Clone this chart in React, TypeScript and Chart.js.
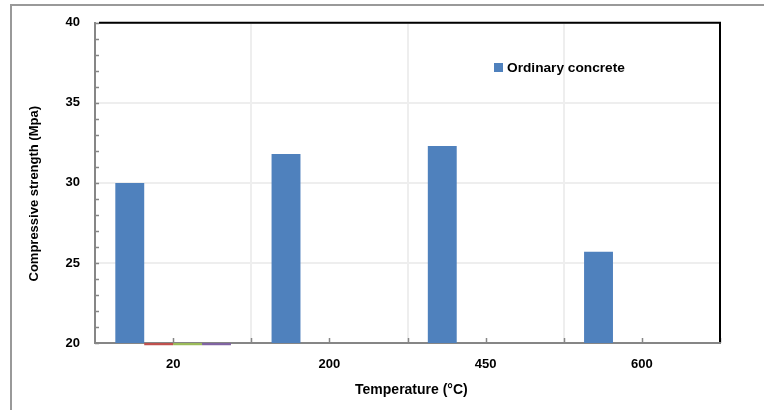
import React, { useEffect, useRef } from 'react';
import { Chart, registerables } from 'chart.js';

Chart.register(...registerables);

const categories = ['20', '200', '450', '600'];
const ordinaryConcrete = [30.0, 31.8, 32.3, 25.7];
const series2 = [20, null, null, null];
const series3 = [20, null, null, null];
const series4 = [20, null, null, null];
const seriesLabels = ['Ordinary concrete', 'Series 2', 'Series 3', 'Series 4'];
const seriesColors = ['#4F81BD', '#C0504D', '#9BBB59', '#8064A2'];
const yMin = 20;
const yMax = 40;
const yStep = 5;
const yMinorStep = 1;
const xTitle = 'Temperature (°C)';
const yTitle = 'Compressive strength (Mpa)';

const FONT = "'Liberation Sans', Arial, sans-serif";

const decorPlugin = {
  id: 'decor',
  beforeDraw(chart: any) {
    const { ctx } = chart;
    ctx.save();
    ctx.fillStyle = '#ffffff';
    ctx.fillRect(0, 0, chart.width, chart.height);
    ctx.restore();
  },
  afterDraw(chart: any) {
    const { ctx, chartArea } = chart;
    const x = chart.scales.x;
    const y = chart.scales.y;
    ctx.save();
    // outer frame
    ctx.strokeStyle = '#999999';
    ctx.lineWidth = 2;
    ctx.strokeRect(11, 5, chart.width + 20, chart.height + 20);
    // inside minor ticks y
    ctx.strokeStyle = '#868686';
    ctx.lineWidth = 1.5;
    for (let v = yMin; v <= yMax; v += yMinorStep) {
      const py = Math.round(y.getPixelForValue(v)) + 0.5;
      ctx.beginPath();
      ctx.moveTo(chartArea.left, py);
      ctx.lineTo(chartArea.left + 4, py);
      ctx.stroke();
    }
    // inside ticks x (centres and boundaries)
    const n = categories.length;
    for (let i = 0; i < n; i++) {
      const c = x.getPixelForValue(i);
      const w = x.getPixelForValue(1) - x.getPixelForValue(0);
      [c, c + w / 2].forEach((px: number) => {
        ctx.beginPath();
        ctx.moveTo(Math.round(px) + 0.5, chartArea.bottom);
        ctx.lineTo(Math.round(px) + 0.5, chartArea.bottom - 5);
        ctx.stroke();
      });
    }
    // black top and right borders
    ctx.strokeStyle = '#000000';
    ctx.lineWidth = 2;
    ctx.beginPath();
    ctx.moveTo(chartArea.left + 4, chartArea.top);
    ctx.lineTo(chartArea.right, chartArea.top);
    ctx.lineTo(chartArea.right, chartArea.bottom - 1);
    ctx.stroke();
    // legend
    const ds = chart.data.datasets[0];
    ctx.fillStyle = ds.backgroundColor;
    ctx.fillRect(494, 63, 9, 9);
    ctx.fillStyle = '#000000';
    ctx.font = `bold 13.7px ${FONT}`;
    ctx.textBaseline = 'middle';
    ctx.textAlign = 'left';
    ctx.fillText(ds.label, 507, 68);
    ctx.restore();
  },
};

export default function App() {
  const ref = useRef<HTMLCanvasElement | null>(null);
  useEffect(() => {
    if (!ref.current) return;
    const extra = [series2, series3, series4];
    const chart = new Chart(ref.current, {
      type: 'bar',
      data: {
        labels: categories,
        datasets: [
          {
            label: seriesLabels[0],
            data: ordinaryConcrete,
            backgroundColor: seriesColors[0],
            borderWidth: 0,
          },
          ...extra.map((d, i) => ({
            label: seriesLabels[i + 1],
            data: d,
            backgroundColor: seriesColors[i + 1],
            borderWidth: 0,
            base: 19.86,
            clip: false,
          })),
        ] as any,
      },
      options: {
        animation: false,
        responsive: false,
        maintainAspectRatio: false,
        devicePixelRatio: 1,
        categoryPercentage: 0.74,
        barPercentage: 1.0,
        layout: { padding: { top: 21, right: 44, left: 0, bottom: 0 } },
        plugins: {
          legend: { display: false },
          tooltip: { enabled: false },
        },
        scales: {
          x: {
            offset: true,
            grid: { offset: true, color: '#eeeeee', lineWidth: 2, drawTicks: false },
            border: { color: '#868686', width: 2 },
            ticks: {
              padding: 14,
              color: '#000000',
              font: { family: FONT, size: 13, weight: 'bold' },
            },
            title: {
              display: true,
              text: '  ' + xTitle,
              color: '#000000',
              font: { family: FONT, size: 14, weight: 'bold' },
              padding: { top: 0, bottom: 11 },
            },
            afterFit(scale: any) {
              scale.height = 67;
            },
          },
          y: {
            min: yMin,
            max: yMax,
            ticks: {
              stepSize: yStep,
              padding: 15,
              color: '#000000',
              font: { family: FONT, size: 13, weight: 'bold' },
            },
            grid: { color: '#eeeeee', lineWidth: 2, drawTicks: false },
            border: { color: '#868686', width: 2 },
            title: {
              display: true,
              text: yTitle + '      ',
              color: '#000000',
              font: { family: FONT, size: 13, weight: 'bold' },
              padding: { top: 27, bottom: 0 },
            },
            afterFit(scale: any) {
              scale.width = 95;
            },
          },
        },
      },
      plugins: [decorPlugin],
    });
    return () => chart.destroy();
  }, []);
  return (
    <div style={{ position: 'absolute', left: 0, top: 0, width: 764, height: 410 }}>
      <canvas ref={ref} width={764} height={410} style={{ width: 764, height: 410 }} />
    </div>
  );
}
